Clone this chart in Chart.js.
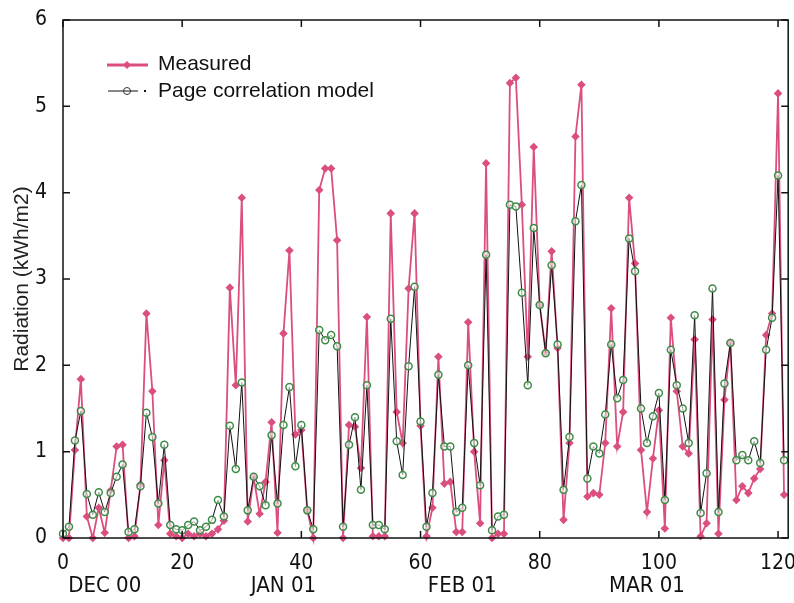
<!DOCTYPE html>
<html>
<head>
<meta charset="utf-8">
<script src="https://cdn.jsdelivr.net/npm/chart.js@4/dist/chart.umd.min.js"></script>
<style>
  body { margin: 0; background: #fff; }
  #wrap { width: 794px; height: 603px; }
</style>
</head>
<body>
<div id="wrap"><canvas id="radChart" width="794" height="603"></canvas></div>
<script>
// Daily radiation, Dec 00 - Mar 01 (day index on x)
const measured = [
    0.0, 0.0, 1.02, 1.84, 0.25, 0.0, 0.35, 0.06, 0.55, 1.06,
    1.08, 0.0, 0.02, 0.62, 2.6, 1.7, 0.15, 0.9, 0.05, 0.02,
    0.0, 0.05, 0.02, 0.05, 0.02, 0.05, 0.1, 0.2, 2.9, 1.77,
    3.94, 0.19, 0.7, 0.28, 0.65, 1.34, 0.06, 2.37, 3.33, 1.2,
    1.25, 0.32, 0.0, 4.03, 4.28, 4.28, 3.45, 0.0, 1.31, 1.29,
    0.81, 2.56, 0.02, 0.02, 0.02, 3.76, 1.46, 1.1, 2.89, 3.76,
    1.3, 0.02, 0.35, 2.1, 0.63, 0.65, 0.07, 0.07, 2.5, 1.0,
    0.17, 4.34, 0.0, 0.05, 0.05, 5.27, 5.33, 3.86, 2.1, 4.53,
    2.7, 2.15, 3.32, 2.2, 0.21, 1.1, 4.65, 5.25, 0.48, 0.52,
    0.5, 1.1, 2.66, 1.06, 1.46, 3.94, 3.18, 1.02, 0.3, 0.92,
    1.48, 0.11, 2.55, 1.7, 1.06, 0.98, 2.3, 0.02, 0.17, 2.53,
    0.05, 1.6, 2.26, 0.44, 0.6, 0.52, 0.69, 0.8, 2.35, 2.6,
    5.15, 0.5
];
const model = [
    0.05, 0.13, 1.13, 1.47, 0.51, 0.27, 0.53, 0.3, 0.52, 0.71,
    0.85, 0.07, 0.1, 0.6, 1.45, 1.17, 0.4, 1.08, 0.15, 0.1,
    0.09, 0.15, 0.19, 0.09, 0.13, 0.21, 0.44, 0.25, 1.3, 0.8,
    1.8, 0.32, 0.71, 0.6, 0.38, 1.19, 0.4, 1.31, 1.75, 0.83,
    1.31, 0.32, 0.1, 2.41, 2.29, 2.35, 2.22, 0.13, 1.08, 1.4,
    0.56, 1.77, 0.15, 0.15, 0.1, 2.54, 1.12, 0.73, 1.99, 2.91,
    1.35, 0.13, 0.52, 1.89, 1.06, 1.06, 0.3, 0.35, 2.0, 1.1,
    0.61, 3.28, 0.09, 0.25, 0.27, 3.86, 3.84, 2.84, 1.77, 3.59,
    2.7, 2.14, 3.16, 2.24, 0.56, 1.17, 3.67, 4.09, 0.69, 1.06,
    0.98, 1.43, 2.24, 1.62, 1.83, 3.47, 3.09, 1.5, 1.1, 1.41,
    1.68, 0.44, 2.18, 1.77, 1.5, 1.1, 2.58, 0.29, 0.75, 2.89,
    0.3, 1.79, 2.26, 0.9, 0.96, 0.9, 1.12, 0.87, 2.18, 2.55,
    4.2, 0.9
];
const xTicks = [0, 20, 40, 60, 80, 100, 120];
const yTicks = [0, 1, 2, 3, 4, 5, 6];
const months = ['DEC 00', 'JAN 01', 'FEB 01', 'MAR 01'];
const monthDays = [7, 37, 67, 98];

const PINK = '#db4f80';
const GREEN = '#3d8c45';
const narrow = "'Liberation Sans Narrow', 'DejaVu Sans Condensed', sans-serif";
const sans = "'Liberation Sans', Arial, sans-serif";

const days = measured.map((_, i) => i);

// frame with inward ticks, legend and month labels
const decor = {
    id: 'decor',
    afterDatasetsDraw(chart) {
        const { ctx, chartArea: a, scales: { x, y } } = chart;
        ctx.save();
        ctx.strokeStyle = '#111';
        ctx.lineWidth = 1.5;
        ctx.strokeRect(a.left, a.top, a.right - a.left, a.bottom - a.top);
        ctx.beginPath();
        xTicks.forEach(v => {
            const px = x.getPixelForValue(v);
            ctx.moveTo(px, a.bottom); ctx.lineTo(px, a.bottom - 7);
            ctx.moveTo(px, a.top); ctx.lineTo(px, a.top + 7);
        });
        yTicks.forEach(v => {
            const py = y.getPixelForValue(v);
            ctx.moveTo(a.left, py); ctx.lineTo(a.left + 7, py);
            ctx.moveTo(a.right, py); ctx.lineTo(a.right - 7, py);
        });
        ctx.stroke();

        // legend
        ctx.lineWidth = 3;
        ctx.strokeStyle = PINK;
        ctx.beginPath(); ctx.moveTo(107, 65); ctx.lineTo(148, 65); ctx.stroke();
        ctx.fillStyle = PINK;
        ctx.beginPath();
        ctx.moveTo(127, 61); ctx.lineTo(131, 65); ctx.lineTo(127, 69); ctx.lineTo(123, 65);
        ctx.closePath(); ctx.fill();

        ctx.lineWidth = 1;
        ctx.strokeStyle = '#111';
        ctx.beginPath(); ctx.moveTo(108, 91); ctx.lineTo(138, 91); ctx.stroke();
        ctx.strokeStyle = '#333';
        ctx.beginPath(); ctx.arc(127, 91, 3.5, 0, Math.PI * 2); ctx.stroke();
        ctx.fillStyle = '#111';
        ctx.fillRect(144, 90, 2, 2);

        ctx.fillStyle = '#111';
        ctx.font = '21px ' + sans;
        ctx.textBaseline = 'middle';
        ctx.textAlign = 'left';
        ctx.fillText('Measured', 158, 64);
        ctx.fillText('Page correlation model', 158, 91);

        // month labels under the axis
        ctx.font = '22px ' + narrow;
        ctx.textAlign = 'center';
        months.forEach((m, i) => {
            ctx.fillText(m, x.getPixelForValue(monthDays[i]), 586);
        });
        ctx.restore();
    }
};

new Chart(document.getElementById('radChart').getContext('2d'), {
    type: 'line',
    data: {
        labels: days,
        datasets: [{
            label: 'Measured',
            data: days.map((d, i) => ({ x: d, y: measured[i] })),
            borderColor: PINK,
            backgroundColor: PINK,
            borderWidth: 1.8,
            pointStyle: 'rectRot',
            pointRadius: 3,
            tension: 0,
            clip: false,
            order: 2
        }, {
            label: 'Page correlation model',
            data: days.map((d, i) => ({ x: d, y: model[i] })),
            borderColor: '#111',
            borderWidth: 1,
            pointBorderColor: GREEN,
            pointBackgroundColor: 'rgba(255,255,255,0.6)',
            pointBorderWidth: 1.5,
            pointRadius: 3.5,
            pointStyle: 'circle',
            tension: 0,
            clip: false,
            order: 1
        }]
    },
    options: {
        responsive: false,
        animation: false,
        layout: { padding: { top: 20, right: 4, left: 0, bottom: 0 } },
        plugins: {
            legend: { display: false },
            tooltip: { enabled: false }
        },
        scales: {
            x: {
                type: 'linear',
                min: 0,
                max: 121.7,
                afterFit(s) { s.height = 65; s.paddingLeft = 0; s.paddingRight = 0; },
                afterBuildTicks(s) { s.ticks = xTicks.map(v => ({ value: v })); },
                grid: { display: false },
                border: { display: false },
                ticks: {
                    color: '#111',
                    padding: 5,
                    maxRotation: 0,
                    font: { family: narrow, size: 21 }
                }
            },
            y: {
                min: 0,
                max: 6,
                afterFit(s) { s.width = 63; s.paddingTop = 0; s.paddingBottom = 0; },
                afterBuildTicks(s) { s.ticks = yTicks.map(v => ({ value: v })); },
                grid: { display: false },
                border: { display: false },
                ticks: {
                    color: '#111',
                    padding: 8,
                    font: { family: narrow, size: 21 }
                },
                title: {
                    display: true,
                    text: 'Radiation (kWh/m2)',
                    color: '#222',
                    padding: { top: 10, bottom: 0 },
                    font: { family: sans, size: 21 }
                }
            }
        }
    },
    plugins: [decor]
});
</script>
</body>
</html>
